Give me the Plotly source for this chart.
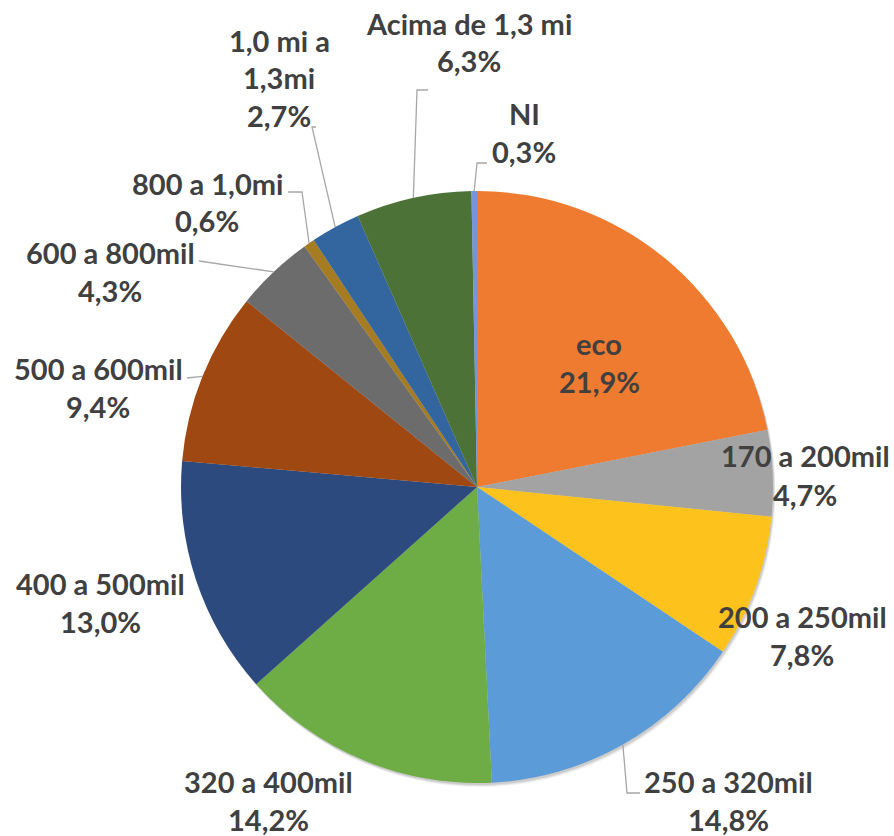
import math
import plotly.graph_objects as go

# ---------------- data ----------------
labels = ["eco", "170 a 200mil", "200 a 250mil", "250 a 320mil", "320 a 400mil",
          "400 a 500mil", "500 a 600mil", "600 a 800mil", "800 a 1,0mi",
          "1,0 mi a 1,3mi", "Acima de 1,3 mi", "NI"]
values = [21.9, 4.7, 7.8, 14.8, 14.2, 13.0, 9.4, 4.3, 0.6, 2.7, 6.3, 0.3]

# ---------------- styling / layout ----------------
colors = ["#EF7B30", "#A3A3A3", "#FDC21C", "#5A9BD8", "#6EAD45", "#2C4A7E",
          "#A04812", "#6C6C6C", "#A67C22", "#33659E", "#4D7238", "#7496D6"]

W, H = 894, 836
CX, CY, R = 477, 487, 296          # pie centre / radius in pixels (from top-left)
FONT = dict(family="Lato, Open Sans, sans-serif", size=29, color="#404040", weight="bold")
LINE_GAP = 38
TEXT_DY = -2                        # small optical correction of text baseline

# label placement: centre x, y of first line (pixels)
label_pos = {
    "eco": (599, 345),
    "170 a 200mil": (805, 458),
    "200 a 250mil": (802, 618),
    "250 a 320mil": (728, 783),
    "320 a 400mil": (268, 783),
    "400 a 500mil": (100, 585),
    "500 a 600mil": (98, 370),
    "600 a 800mil": (110, 254),
    "800 a 1,0mi": (207, 185),
    "1,0 mi a 1,3mi": (279, 42),
    "Acima de 1,3 mi": (469, 25),
    "NI": (524, 115),
}
label_lines = {"1,0 mi a 1,3mi": ["1,0 mi a", "1,3mi"]}

# leader-line knots on the label side (pixels); the slice end is computed
leader_knots = {
    "250 a 320mil": [(640, 793), (627, 793)],
    "500 a 600mil": [(187, 378)],
    "600 a 800mil": [(199, 261)],
    "800 a 1,0mi": [(288, 192), (302, 192)],
    "1,0 mi a 1,3mi": [(316, 127), (312, 127)],
    "Acima de 1,3 mi": [(428, 90), (417, 90)],
    "NI": [(487, 163), (477, 163)],
}


def px2paper(x, y):
    return x / W, 1 - y / H


def pie_domain(cx, cy, r):
    return dict(x=[(cx - r) / W, (cx + r) / W],
                y=[(H - cy - r) / H, (H - cy + r) / H])


fig = go.Figure()
# soft shadow under the pie
for off, alpha in [(4, 0.05), (3, 0.07), (2, 0.09)]:
    fig.add_trace(go.Pie(
        labels=labels, values=values, sort=False, direction="clockwise", rotation=0,
        marker=dict(colors=[f"rgba(0,0,0,{alpha})"] * len(values), line=dict(width=0)),
        textinfo="none", hoverinfo="skip", showlegend=False,
        domain=pie_domain(CX + off * 0.6, CY + off, R),
    ))
fig.add_trace(go.Pie(
    labels=labels, values=values, sort=False, direction="clockwise", rotation=0,
    marker=dict(colors=colors, line=dict(width=0)),
    textinfo="none", hoverinfo="label+percent", showlegend=False,
    domain=pie_domain(CX, CY, R),
))

total = sum(values)
cum = 0.0
annotations = []
shapes = []
for lab, v in zip(labels, values):
    mid = (cum + v / 2) / total * 2 * math.pi
    cum += v
    ex = CX + R * math.sin(mid)
    ey = CY - R * math.cos(mid)
    pct = f"{v / total * 100:.1f}".replace(".", ",") + "%"
    lines = label_lines.get(lab, [lab]) + [pct]
    lx, ly = label_pos[lab]
    for i, t in enumerate(lines):
        x, y = px2paper(lx, ly + i * LINE_GAP + TEXT_DY)
        annotations.append(dict(x=x, y=y, xref="paper", yref="paper", text=t,
                                showarrow=False, xanchor="center", yanchor="middle",
                                font=FONT))
    if lab in leader_knots:
        pts = leader_knots[lab] + [(ex, ey)]
        path = ""
        for j, (a, b) in enumerate(pts):
            pxp, pyp = px2paper(a, b)
            path += ("M" if j == 0 else " L") + f" {pxp:.5f},{pyp:.5f}"
        shapes.append(dict(type="path", path=path, xref="paper", yref="paper",
                           line=dict(color="#A6A6A6", width=1.3)))

fig.update_layout(
    width=W, height=H, margin=dict(l=0, r=0, t=0, b=0),
    paper_bgcolor="white", plot_bgcolor="white",
    annotations=annotations, shapes=shapes, separators=",.",
)

fig.write_html(
    "out.html",
    config={"displayModeBar": False},
    post_script="document.body.style.margin='0';document.body.style.padding='0';"
                "document.body.style.overflow='hidden';",
)
